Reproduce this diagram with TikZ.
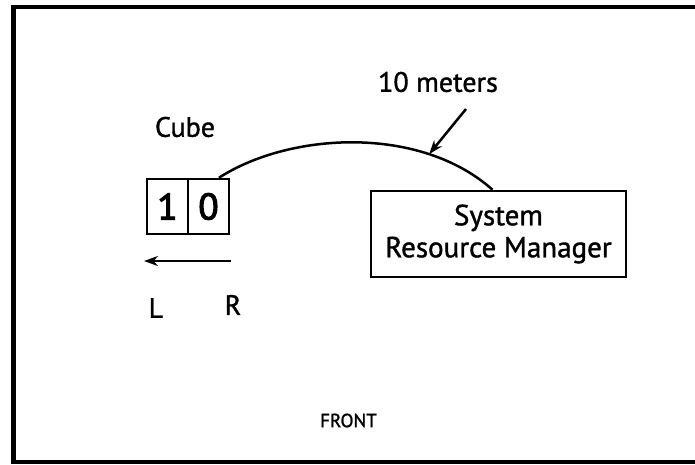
\documentclass[tikz,border=0pt]{standalone}
\usepackage{fontspec}
\setmainfont{PT Sans}[FakeBold=1.3]
\newfontfamily\cellfont{PT Sans}[FakeBold=3]
\usetikzlibrary{arrows.meta}

\begin{document}
\begin{tikzpicture}[x=1pt,y=-1pt,
    every node/.style={font=\fontsize{28}{33}\selectfont},
    cell/.style={draw,line width=2.5pt,minimum width=41pt,minimum height=55pt,inner sep=0pt,
      font=\fontsize{37}{40}\cellfont},
    >={Stealth[length=14pt,width=10pt]}]
  \useasboundingbox (0,0) rectangle (695,464);

  \draw[line width=4.5pt] (695,462) -- (13.5,462) -- (13.5,7) -- (695,7);

  \node[cell] (one) at (167.5,206.5) {1};
  \node[cell] (zero) at (208.5,206.5) {0};
  \node (cube) at (185,127) {Cube};

  \node[draw,line width=2.5pt,minimum width=255pt,minimum height=86pt,
        align=center,inner sep=0pt,font=\fontsize{29}{34}\selectfont] (srm) at (498.5,234) {System\\[-2pt]Resource Manager};

  \draw[line width=2.5pt] (zero.70) .. controls (290,132) and (420,125) .. ([xshift=-6pt]srm.north)
    coordinate[pos=0.75] (hit);

  % Kabel
  \node (meters) at (438,82) {10 meters};
  \coordinate (tail) at (466,109);
  \draw[->,line width=2.5pt] (tail) -- (hit);

  \coordinate (rstart) at (231,261);
  \coordinate (lend) at (144,261);
  \draw[->,line width=2.5pt] (rstart) -- (lend);
  \node (L) at (156,308) {L};
  \node (R) at (233,305) {R};

  \node[font=\fontsize{19}{23}\selectfont] (front) at (348.5,420.5) {FRONT};
\end{tikzpicture}
\end{document}
